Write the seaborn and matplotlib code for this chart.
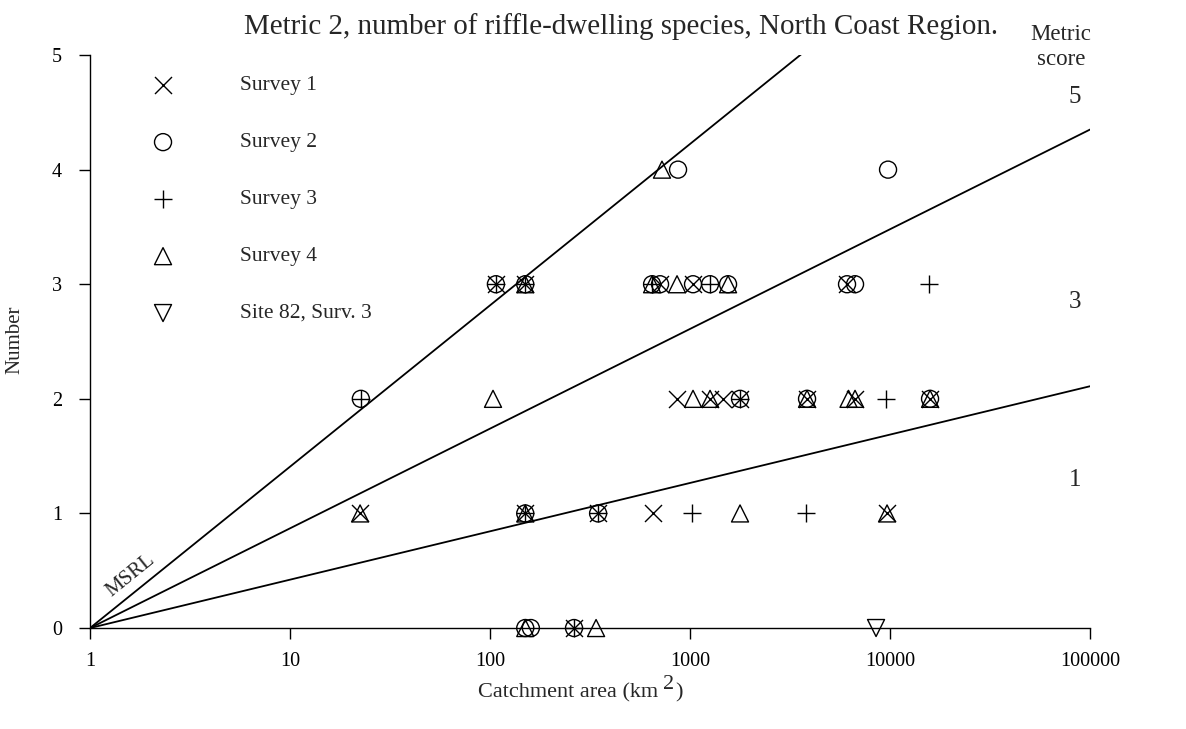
import matplotlib
matplotlib.use("Agg")
import matplotlib.pyplot as plt
import numpy as np
import pandas as pd
import seaborn as sns

# Catchment area (km2) and number of riffle-dwelling species per survey
survey1_area = [107, 150, 708, 1035, 6095, 861, 1259, 1462, 1778, 3846, 6683, 15850, 22.4, 150, 347, 653, 9661, 263]
survey1_count = [3, 3, 3, 3, 3, 2, 2, 2, 2, 2, 2, 2, 1, 1, 1, 1, 1, 0]

survey2_area = [871, 9772, 107, 150, 646, 708, 1035, 1259, 1549, 6095, 6683, 22.6, 1778, 3846, 15850, 150, 347, 150, 160, 263]
survey2_count = [4, 4, 3, 3, 3, 3, 3, 3, 3, 3, 3, 2, 2, 2, 2, 1, 1, 0, 0, 0]

survey3_area = [107, 150, 646, 1259, 15668, 22.6, 1778, 9550, 150, 347, 1023, 3802, 263]
survey3_count = [3, 3, 3, 3, 3, 2, 2, 2, 1, 1, 1, 1, 0]

survey4_area = [724, 150, 646, 861, 1549, 103.5, 1035, 1259, 3846, 6200, 6683, 15850, 22.4, 150, 1778, 9661, 150, 339]
survey4_count = [4, 3, 3, 3, 3, 2, 2, 2, 2, 2, 2, 2, 1, 1, 1, 1, 0, 0]

site82_area = [8511]
site82_count = [0]

series_names = ["Survey 1", "Survey 2", "Survey 3", "Survey 4", "Site 82, Surv. 3"]
series_markers = ["x", "o", "+", "^", "v"]

# Reference lines from the origin (area 1 km2): MSRL and the two score boundaries
line_area = [1, 100000]
msrl_count = [0, 7.04]
upper_count = [0, 4.35]
lower_count = [0, 2.11]

score_labels = ["5", "3", "1"]

frames = []
for name, a, c in zip(series_names,
                      [survey1_area, survey2_area, survey3_area, survey4_area, site82_area],
                      [survey1_count, survey2_count, survey3_count, survey4_count, site82_count]):
    frames.append(pd.DataFrame({"area": a, "count": c, "series": name}))
df = pd.concat(frames, ignore_index=True)

sns.set_style("ticks")
plt.rcParams["font.family"] = ["Liberation Serif", "DejaVu Serif"]
plt.rcParams["mathtext.fontset"] = "stix"

fig = plt.figure(figsize=(11.86, 7.29), dpi=100)
ax = fig.add_axes([0.0759, 0.1385, 0.8432, 0.786])

for yvals in (msrl_count, upper_count, lower_count):
    sns.lineplot(x=line_area, y=yvals, ax=ax, color="black", linewidth=1.3)

msz = 150
for name, m in zip(series_names, series_markers):
    sub = df[df["series"] == name]
    if m in ("x", "+"):
        sns.scatterplot(data=sub, x="area", y="count", ax=ax, marker=m, s=msz,
                        color="black", linewidth=1.0, clip_on=False, zorder=3)
    else:
        sns.scatterplot(data=sub, x="area", y="count", ax=ax, marker=m, s=msz,
                        facecolors="none", edgecolor="black", linewidth=1.0,
                        clip_on=False, zorder=3)

ax.set_xscale("log")
ax.set_xlim(1, 100000)
ax.set_ylim(0, 5)
ax.set_xticks([1, 10, 100, 1000, 10000, 100000])
ax.set_xticklabels(["1", "10", "100", "1000", "10000", "100000"])
ax.xaxis.set_minor_locator(matplotlib.ticker.NullLocator())
ax.set_yticks([0, 1, 2, 3, 4, 5])
ax.set_xlabel("")
ax.set_ylabel("")
for s in ("top", "right"):
    ax.spines[s].set_visible(False)
for s in ("bottom", "left"):
    ax.spines[s].set_color("black")
    ax.spines[s].set_linewidth(1.0)
ax.tick_params(axis="both", direction="out", length=8, width=1.0,
               labelsize=14.5, colors="black")
ax.tick_params(axis="x", pad=9)
ax.tick_params(axis="y", pad=12)

# Legend drawn as marker + label rows
leg_y = [0.9476, 0.848, 0.7487, 0.649, 0.5497]
for name, m, yy in zip(series_names, series_markers, leg_y):
    if m in ("x", "+"):
        ax.scatter([0.073], [yy], marker=m, s=msz, color="black", linewidth=1.0,
                   transform=ax.transAxes)
    else:
        ax.scatter([0.073], [yy], marker=m, s=msz, facecolors="none",
                   edgecolors="black", linewidth=1.0, transform=ax.transAxes)
    ax.text(0.15, yy, name, transform=ax.transAxes, fontsize=15.5,
            va="center", ha="left")

ax.text(1.6, 0.46, "MSRL", rotation=39, fontsize=15, ha="center", va="center")

fig.text(0.524, 0.963, "Metric 2, number of riffle-dwelling species, North Coast Region.",
         ha="center", va="center", fontsize=20.9)
fig.text(0.8945, 0.952, "Metric", ha="center", va="center", fontsize=16.5)
fig.text(0.8945, 0.918, "score", ha="center", va="center", fontsize=16.5)
for lab, yy in zip(score_labels, [97, 302, 480]):
    fig.text(1075 / 1186, 1 - yy / 729, lab, ha="center", va="center", fontsize=18)

fig.text(15 / 1186, 0.534, "Number", rotation=90, ha="center", va="center", fontsize=15)

# x-axis label with a full-size raised "2"
xl = fig.text(478 / 1186, 0.049, "Catchment area (km", ha="left", va="center", fontsize=16)
sup = ax.annotate("2", xy=(1, 0.5), xycoords=xl, xytext=(3.5, 6),
                  textcoords="offset points", fontsize=16, ha="left", va="center",
                  annotation_clip=False)
ax.annotate(")", xy=(1, 0.5), xycoords=sup, xytext=(0.5, -6),
            textcoords="offset points", fontsize=16, ha="left", va="center",
            annotation_clip=False)

fig.savefig("out.png", dpi=100)
